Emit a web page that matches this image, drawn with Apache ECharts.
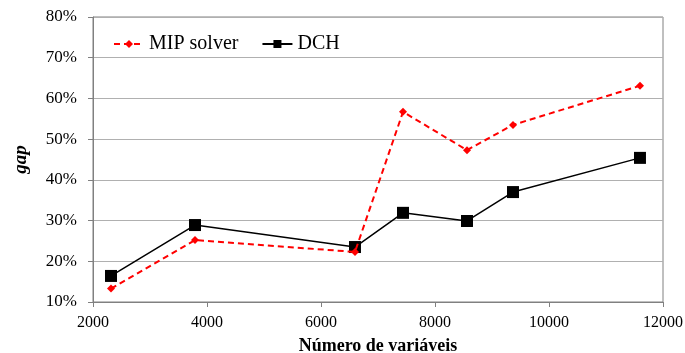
<!DOCTYPE html>
<html><head><meta charset="utf-8">
<script src="https://cdn.jsdelivr.net/npm/echarts@6/dist/echarts.min.js"></script>
<style>html,body{margin:0;padding:0;background:#fff}#c{width:685px;height:353px}</style>
</head><body><div id="c"></div>
<script>
const xValues = [2316, 3789, 6596, 7439, 8561, 9368, 11596];
const mipSolver = [13.3, 25.2, 22.3, 56.7, 47.3, 53.5, 63.1];
const dch = [16.4, 28.9, 23.5, 31.9, 29.9, 37.0, 45.4];
const seriesNames = ['MIP solver', 'DCH'];

const chart = echarts.init(document.getElementById('c'));
const font = 'Liberation Serif';
chart.setOption({
  animation: false,
  grid: {left: 93, right: 22, top: 17, bottom: 51, show: true, borderColor: '#808080', borderWidth: 1,
         containLabel: false, outerBoundsMode: 'none'},
  legend: {
    left: 108, top: 29, itemWidth: 30, itemHeight: 10, itemGap: 23,
    textStyle: {fontFamily: font, fontSize: 20, color: '#000'},
    data: seriesNames
  },
  xAxis: {
    type: 'value', min: 2000, max: 12000, interval: 2000,
    name: 'Número de variáveis', nameLocation: 'middle', nameGap: 35,
    nameTextStyle: {fontFamily: font, fontSize: 18, fontWeight: 'bold', color: '#000'},
    axisLine: {show: true, lineStyle: {color: '#808080'}},
    axisTick: {show: true, length: 5, lineStyle: {color: '#808080'}},
    axisLabel: {fontFamily: font, fontSize: 16, color: '#000', margin: 13, formatter: v => String(v)},
    splitLine: {show: false}
  },
  yAxis: {
    type: 'value', min: 10, max: 80, interval: 10,
    name: 'gap', nameLocation: 'middle', nameGap: 62,
    nameTextStyle: {fontFamily: font, fontSize: 19, fontWeight: 'bold', fontStyle: 'italic', color: '#000'},
    axisLine: {show: true, lineStyle: {color: '#808080'}},
    axisTick: {show: true, length: 5, lineStyle: {color: '#808080'}},
    axisLabel: {fontFamily: font, fontSize: 17, color: '#000', margin: 16, formatter: v => v + '%'},
    splitLine: {show: true, lineStyle: {color: '#b0b0b0', width: 1}}
  },
  series: [
    {
      name: seriesNames[0], type: 'line',
      data: xValues.map((x, i) => [x, mipSolver[i]]),
      symbol: 'diamond', symbolSize: 8,
      lineStyle: {color: '#ff0000', width: 2, type: [6, 4]},
      itemStyle: {color: '#ff0000'},
      z: 3
    },
    {
      name: seriesNames[1], type: 'line',
      data: xValues.map((x, i) => [x, dch[i]]),
      symbol: 'rect', symbolSize: 12,
      lineStyle: {color: '#000', width: 1.5},
      itemStyle: {color: '#000'},
      z: 2
    }
  ]
});
</script></body></html>
